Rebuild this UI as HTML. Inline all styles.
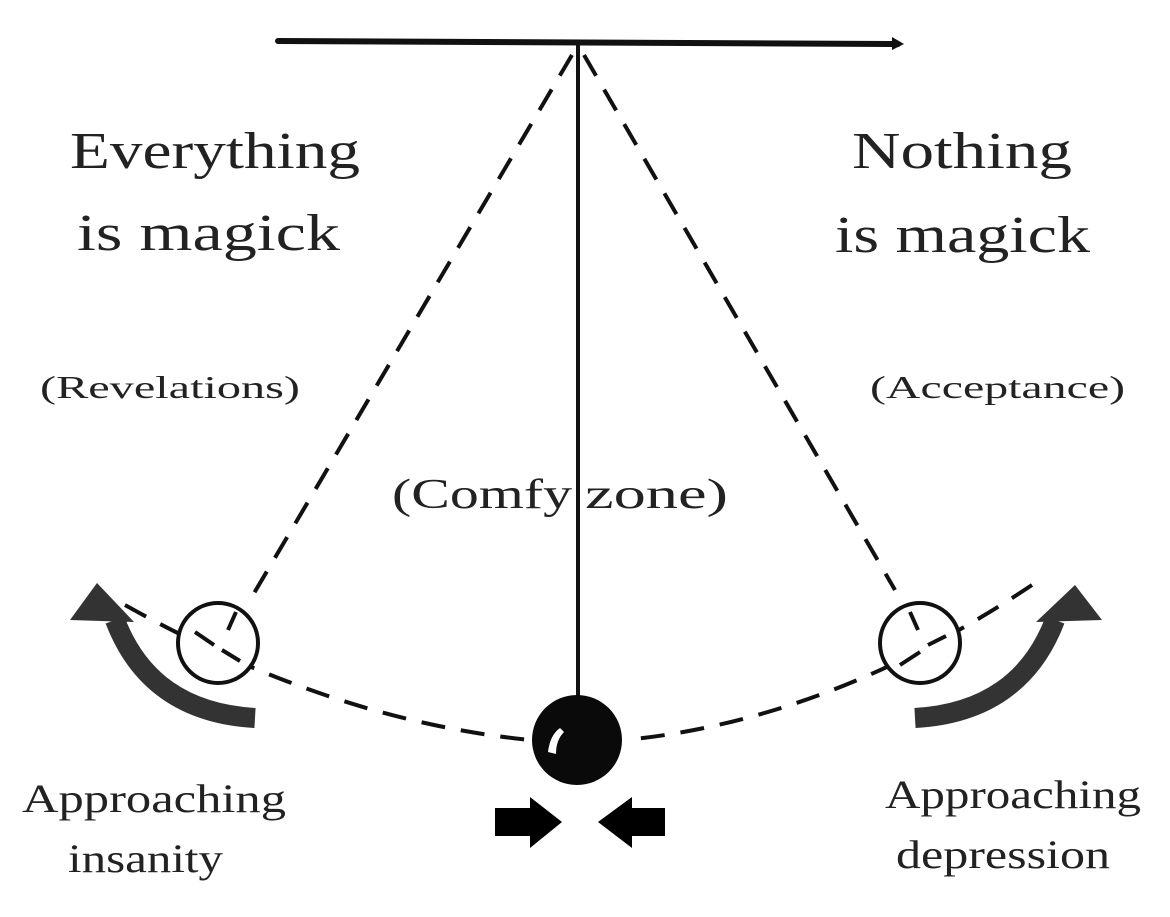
<!DOCTYPE html>
<html><head><style>html,body{margin:0;padding:0;background:#fff}svg{display:block}text{font-family:"Liberation Serif",serif}</style></head>
<body>
<svg width="1170" height="917" viewBox="0 0 1170 917" xmlns="http://www.w3.org/2000/svg" fill="#222">
<rect width="1170" height="917" fill="#fff"/>
<line x1="278" y1="41" x2="898" y2="44" stroke="#111" stroke-width="6" stroke-linecap="round"/>
<polygon points="892,37 904,44 892,50" fill="#111"/>
<line x1="578" y1="42" x2="578" y2="700" stroke="#111" stroke-width="4"/>
<g stroke="#111" stroke-width="4" stroke-dasharray="24,16" fill="none">
<line x1="572" y1="55" x2="250" y2="600"/>
<line x1="584" y1="55" x2="895" y2="590"/>
<path d="M125,605 Q330,720 530,740"/>
<path d="M1032,585 Q830,720 625,740"/>
</g>
<circle cx="218" cy="643" r="40" fill="#fff" stroke="#111" stroke-width="4"/>
<circle cx="920" cy="643" r="40" fill="#fff" stroke="#111" stroke-width="4"/>
<g stroke="#111" stroke-width="4">
<line x1="195" y1="632" x2="214" y2="645"/><line x1="222" y1="650" x2="240" y2="661"/><line x1="236" y1="612" x2="228" y2="630"/>
<line x1="900" y1="665" x2="920" y2="652"/><line x1="928" y1="645" x2="946" y2="636"/><line x1="910" y1="612" x2="918" y2="630"/>
</g>
<circle cx="577" cy="740" r="45" fill="#0a0a0a"/>
<path d="M548,752 Q550,735 560,728 L564,732 Q556,740 556,754 Z" fill="#fff"/>
<path d="M255,718 Q150,712 115,620" stroke="#333" stroke-width="20" fill="none"/>
<polygon points="97,583 70,620 134,622" fill="#333"/>
<path d="M915,718 Q1020,712 1055,620" stroke="#333" stroke-width="20" fill="none"/>
<polygon points="1075,585 1102,620 1036,622" fill="#333"/>
<polygon points="495,808 530,808 530,797 562,822 530,848 530,836 495,836" fill="#000"/>
<polygon points="665,808 632,808 632,797 598,822 632,848 632,836 665,836" fill="#000"/>
<text x="70" y="168" font-size="52" textLength="290" lengthAdjust="spacingAndGlyphs">Everything</text>
<text x="77" y="250" font-size="52" textLength="263" lengthAdjust="spacingAndGlyphs">is magick</text>
<text x="852" y="168" font-size="52" textLength="220" lengthAdjust="spacingAndGlyphs">Nothing</text>
<text x="835" y="252" font-size="52" textLength="255" lengthAdjust="spacingAndGlyphs">is magick</text>
<text x="40" y="398" font-size="32" textLength="260" lengthAdjust="spacingAndGlyphs">(Revelations)</text>
<text x="870" y="398" font-size="32" textLength="255" lengthAdjust="spacingAndGlyphs">(Acceptance)</text>
<text x="392" y="508" font-size="42" textLength="180" lengthAdjust="spacingAndGlyphs">(Comfy</text>
<text x="585" y="508" font-size="42" textLength="143" lengthAdjust="spacingAndGlyphs">zone)</text>
<text x="22" y="812" font-size="40" textLength="264" lengthAdjust="spacingAndGlyphs">Approaching</text>
<text x="68" y="872" font-size="40" textLength="155" lengthAdjust="spacingAndGlyphs">insanity</text>
<text x="885" y="808" font-size="40" textLength="256" lengthAdjust="spacingAndGlyphs">Approaching</text>
<text x="896" y="868" font-size="40" textLength="214" lengthAdjust="spacingAndGlyphs">depression</text>
</svg>
</body></html>
